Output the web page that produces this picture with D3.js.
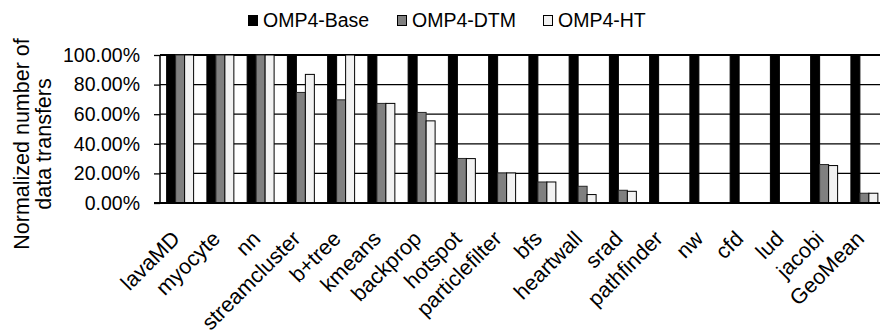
<!DOCTYPE html>
<html>
<head>
<meta charset="utf-8">
<script src="https://cdn.jsdelivr.net/npm/d3@7"></script>
<style>
  body { margin: 0; background: #fff; }
  svg { display: block; font-family: "Liberation Sans", Arial, sans-serif; }
</style>
</head>
<body>
<div id="chart"></div>
<script>
// benchmarks on the x axis
var categories = ["lavaMD", "myocyte", "nn", "streamcluster", "b+tree", "kmeans", "backprop",
  "hotspot", "particlefilter", "bfs", "heartwall", "srad", "pathfinder", "nw", "cfd", "lud",
  "jacobi", "GeoMean"];

var seriesNames = ["OMP4-Base", "OMP4-DTM", "OMP4-HT"];

var baseValues = [1, 1, 1, 1, 1, 1, 1, 1, 1, 1, 1, 1, 1, 1, 1, 1, 1, 1];
var dtmValues  = [1, 1, 1, 0.747, 0.697, 0.673, 0.612, 0.301, 0.203, 0.142, 0.113, 0.086, 0, 0, 0, 0, 0.26, 0.066];
var htValues   = [1, 1, 1, 0.869, 1, 0.673, 0.555, 0.30, 0.203, 0.142, 0.057, 0.079, 0, 0, 0, 0, 0.253, 0.066];

var yTicks = [0, 0.2, 0.4, 0.6, 0.8, 1.0];

var width = 880, height = 334;
var plotLeft = 160, plotTop = 55, plotBottom = 203;

var fills = ["#000000", "#808080", "#f2f2f2"];
var strokes = ["#000000", "#262626", "#000000"];

var svg = d3.select("#chart").append("svg")
    .attr("width", width)
    .attr("height", height);

var xScale = d3.scaleBand()
    .domain(categories)
    .range([plotLeft, plotLeft + 18 * 40.25])
    .paddingInner(0.33)
    .paddingOuter(0.165);

var xSub = d3.scaleBand()
    .domain(seriesNames)
    .range([0, xScale.bandwidth()]);

var yScale = d3.scaleLinear().domain([0, 1]).range([plotBottom, plotTop]);

// gridlines
svg.append("g")
    .selectAll("line")
    .data(yTicks.slice(1))
    .join("line")
    .attr("x1", plotLeft)
    .attr("x2", width)
    .attr("y1", d => yScale(d))
    .attr("y2", d => yScale(d))
    .attr("stroke", "#000")
    .attr("stroke-width", d => d === 1 ? 2 : 1.3);

// bars
var table = categories.map(function(c, i) {
  return { cat: c, vals: [baseValues[i], dtmValues[i], htValues[i]] };
});

var groups = svg.append("g")
    .selectAll("g")
    .data(table)
    .join("g")
    .attr("transform", d => "translate(" + xScale(d.cat) + ",0)");

groups.selectAll("rect")
    .data(d => d.vals.map((v, k) => ({ key: seriesNames[k], k: k, v: v })))
    .join("rect")
    .attr("x", d => xSub(d.key))
    .attr("y", d => yScale(d.v))
    .attr("width", xSub.bandwidth())
    .attr("height", d => plotBottom - yScale(d.v))
    .attr("fill", d => fills[d.k])
    .attr("stroke", d => d.v > 0 ? strokes[d.k] : "none")
    .attr("stroke-width", 1);

// y axis
var yAxis = svg.append("g")
    .attr("transform", "translate(" + plotLeft + ",0)")
    .call(d3.axisLeft(yScale).tickValues(yTicks).tickSize(6).tickPadding(14)
      .tickFormat(d => (d * 100).toFixed(2) + "%"));
yAxis.select(".domain").attr("stroke", "#000").attr("stroke-width", 1.5)
    .attr("d", "M0," + plotBottom + "V" + plotTop);
yAxis.selectAll(".tick line").attr("stroke", "#000").attr("stroke-width", 1.3);
yAxis.selectAll(".tick text")
    .attr("font-size", "19.5px")
    .attr("fill", "#000")
    .attr("font-family", "Liberation Sans, Arial, sans-serif");

// x axis line
svg.append("line")
    .attr("x1", plotLeft - 6).attr("x2", width)
    .attr("y1", plotBottom).attr("y2", plotBottom)
    .attr("stroke", "#000")
    .attr("stroke-width", 2);

// x labels
svg.append("g")
    .selectAll("text")
    .data(categories)
    .join("text")
    .attr("transform", d => "translate(" + (xScale(d) + xScale.bandwidth() / 2 + 1) + "," + 240 + ") rotate(-45)")
    .attr("text-anchor", "end")
    .attr("font-size", "21.5px")
    .attr("fill", "#000")
    .text(d => d);

// y title
var yTitle = svg.append("text")
    .attr("transform", "translate(29,144) rotate(-90)")
    .attr("text-anchor", "middle")
    .attr("font-size", "21.5px")
    .attr("fill", "#000");
yTitle.append("tspan").attr("x", 0).attr("y", 0).text("Normalized number of");
yTitle.append("tspan").attr("x", 0).attr("y", 21.5).text("data transfers");

// legend
var legendX = [248, 397, 543];
var legend = svg.append("g")
    .selectAll("g")
    .data(seriesNames)
    .join("g")
    .attr("transform", (d, i) => "translate(" + legendX[i] + ",0)");

legend.append("rect")
    .attr("x", 0.5).attr("y", 15.5)
    .attr("width", 9).attr("height", 10)
    .attr("fill", (d, i) => fills[i])
    .attr("stroke", "#000")
    .attr("stroke-width", 1);

legend.append("text")
    .attr("x", 15)
    .attr("y", 27)
    .attr("font-size", "19.5px")
    .attr("fill", "#000")
    .text(d => d);
</script>
</body>
</html>
